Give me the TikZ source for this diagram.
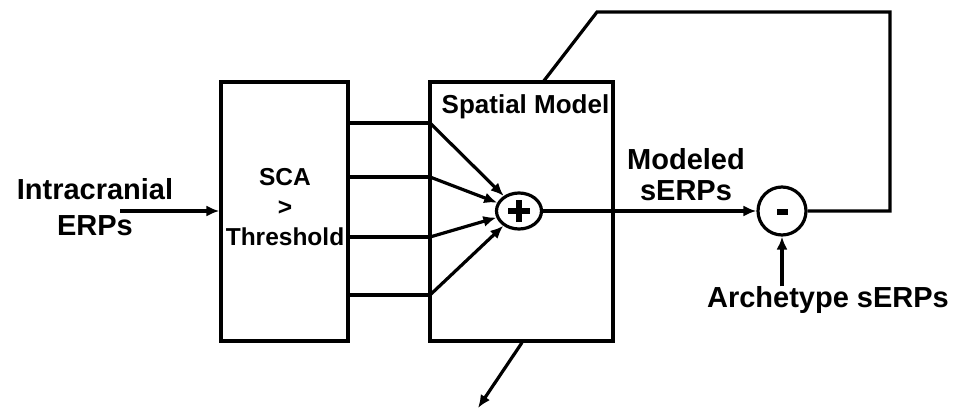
\documentclass[tikz,border=0pt]{standalone}
\usepackage{fontspec}
\setmainfont{Liberation Sans}
\usetikzlibrary{arrows.meta,positioning,shapes.geometric}

\begin{document}
\begin{tikzpicture}[
    x=1pt, y=-1pt,
    font=\bfseries\fontsize{29}{31}\selectfont,
    blockbox/.style={draw, line width=3.2pt, minimum height=259pt, inner sep=0pt},
    boxtext/.style={font=\bfseries\fontsize{24.5}{30}\selectfont, align=center, inner sep=0pt},
    lbl/.style={align=center, inner sep=0pt},
    wire/.style={line width=3.2pt},
    arr/.style={wire, -{Latex[length=13pt,width=11pt]}},
    junc/.style={circle, fill, inner sep=0pt, minimum size=6pt}
]
\useasboundingbox (0,0) rectangle (968,412);

% -- blocks
\node[blockbox, minimum width=127pt] (sca) at (284.5,211.5) {};
\node[boxtext] (scatext) at (285,207) {SCA\\>\\Threshold};
\node[blockbox, minimum width=183pt] (spatial) at (521.5,211.5) {};
\node[boxtext, font=\bfseries\fontsize{26}{30}\selectfont] (spatiallabel)
  at ([xshift=4pt, yshift=-26pt]spatial.north) {Spatial Model};

% -- summing junctions
\node[ellipse, draw, line width=3.2pt, minimum width=45pt, minimum height=36pt,
      inner sep=0pt] (sum) at (519,211) {};
\draw[line width=5.5pt] ([xshift=-11pt]sum.center) -- ([xshift=11pt]sum.center)
  ([yshift=-11pt]sum.center) -- ([yshift=11pt]sum.center);
\node[circle, draw, line width=3.2pt, minimum size=48pt, inner sep=0pt] (minus)
  at (782,211) {};
\fill ([xshift=-5.5pt,yshift=-4pt]minus.center) rectangle ([xshift=5.5pt,yshift=2.5pt]minus.center);

% -- labels
\node[lbl, font=\bfseries\fontsize{29}{36}\selectfont] (input) at (95,207) {Intracranial\\ERPs};
\node[lbl] (modeled) at (686,175) {Modeled\\sERPs};
\node[lbl] (arch) at (828,300) {Archetype sERPs};

% -- branch points on the spatial model edge
\coordinate (j1) at (430,123);
\coordinate (j2) at (430,177);
\coordinate (j3) at (430,237);
\coordinate (j4) at (430,295);
\coordinate (inStart) at (120,211);
\coordinate (fbR) at (890,12);
\coordinate (fbL) at (597,12);
\coordinate (fbEnd) at (543,82);
\coordinate (outEnd) at (478,408);
\coordinate (split) at (613,211);

% -- arrows
\draw[arr] (inStart) -- (sca.west |- inStart);
\foreach \j in {j1,j2,j3,j4}{
  \draw[wire] (sca.east |- \j) -- (\j);
  \draw[arr] (\j) -- (sum);
}
\draw[wire] (sum) -- (split);
\draw[arr] (split) -- (minus);
\node[junc] at (split) {};
\draw[arr] (arch.north -| minus) -- (minus);
\draw[wire, line join=miter] (minus.east) -| (fbR) -- (fbL) -- (fbEnd);
\draw[arr] ([xshift=0.5pt]spatial.south) -- (outEnd);

\end{tikzpicture}
\end{document}
